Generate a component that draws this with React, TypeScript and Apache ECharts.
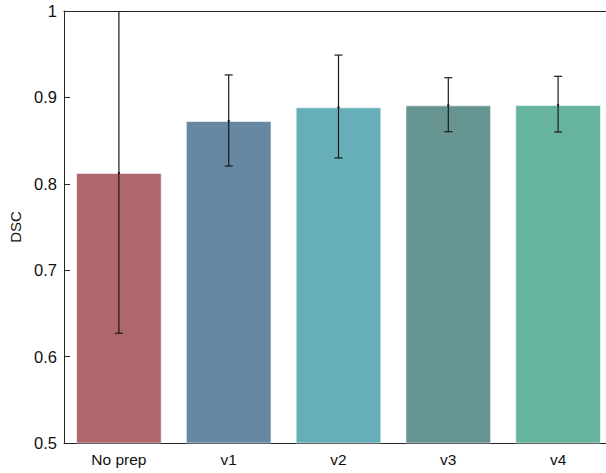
import React, { useEffect, useRef } from "react";
import * as echarts from "echarts";

const categories = ["No prep", "v1", "v2", "v3", "v4"];
const meanValues = [0.8125, 0.8727, 0.8885, 0.8908, 0.8912];
const errLow = [0.627, 0.8206, 0.8299, 0.8603, 0.86];
const errHigh = [1.0, 0.926, 0.949, 0.9228, 0.9244];
const barColors = ["#B0676C", "#6688A3", "#66AFB8", "#669591", "#66B3A0"];
const yTicks = [0.5, 0.6, 0.7, 0.8, 0.9, 1];

const FONT = "'Liberation Sans', Arial, Helvetica, sans-serif";
const AXIS_COLOR = "#262626";

export default function App() {
  const ref = useRef<HTMLDivElement>(null);
  useEffect(() => {
    if (!ref.current) return;
    const chart = echarts.init(ref.current, undefined, { renderer: "svg" });
    const errData = categories.map((_, i) => [i, errLow[i], errHigh[i], meanValues[i]]);
    chart.setOption({
      animation: false,
      grid: { left: 64, top: 11, right: 0, bottom: 30 },
      xAxis: [
        {
          type: "category",
          data: categories,
          position: "bottom",
          axisLine: { lineStyle: { color: AXIS_COLOR, width: 1 } },
          axisTick: { inside: true, alignWithLabel: true, length: 6, lineStyle: { color: AXIS_COLOR } },
          axisLabel: { color: "#111", fontSize: 15.5, fontFamily: FONT, margin: 8 },
        },
        {
          type: "category",
          data: categories,
          position: "top",
          axisLine: { lineStyle: { color: AXIS_COLOR, width: 1 } },
          axisTick: { inside: true, alignWithLabel: true, length: 6, lineStyle: { color: AXIS_COLOR } },
          axisLabel: { show: false },
        },
      ],
      yAxis: {
        type: "value",
        min: 0.5,
        max: 1,
        interval: 0.1,
        name: "DSC",
        nameLocation: "middle",
        nameGap: 40,
        nameTextStyle: { color: "#111", fontSize: 15, fontFamily: FONT },
        axisLine: { show: true, lineStyle: { color: AXIS_COLOR, width: 1 } },
        axisTick: { show: true, inside: true, length: 6, lineStyle: { color: AXIS_COLOR } },
        splitLine: { show: false },
        axisLabel: {
          color: "#111",
          fontSize: 16.5,
          fontFamily: FONT,
          margin: 7,
          formatter: (v: number) => {
            const t = yTicks.find((y) => Math.abs(y - v) < 1e-9);
            return t === undefined ? "" : String(t);
          },
        },
      },
      series: [
        {
          type: "bar",
          data: meanValues.map((v, i) => ({ value: v, itemStyle: { color: barColors[i] } })),
          barWidth: "78%",
          itemStyle: { borderColor: "rgba(255,255,255,0.55)", borderWidth: 1 },
          z: 2,
        },
        {
          type: "custom",
          data: errData,
          z: 5,
          clip: true,
          renderItem: (params: any, api: any) => {
            const x = api.value(0);
            const lo = api.coord([x, api.value(1)]);
            const hi = api.coord([x, api.value(2)]);
            const mid = api.coord([x, api.value(3)]);
            const cap = 4;
            const style = { stroke: "#1a1a1a", lineWidth: 1.2 };
            return {
              type: "group",
              children: [
                { type: "line", shape: { x1: lo[0], y1: lo[1], x2: hi[0], y2: hi[1] }, style },
                { type: "line", shape: { x1: lo[0] - cap, y1: lo[1], x2: lo[0] + cap, y2: lo[1] }, style },
                { type: "line", shape: { x1: hi[0] - cap, y1: hi[1], x2: hi[0] + cap, y2: hi[1] }, style },
                { type: "circle", shape: { cx: mid[0], cy: mid[1], r: 1.2 }, style: { fill: "#1a1a1a" } },
              ],
            };
          },
        },
      ],
    });
    return () => chart.dispose();
  }, []);
  return (
    <div
      style={{ position: "fixed", left: 0, top: 0, width: 606, height: 473, overflow: "hidden", background: "#fff" }}
    >
      <div ref={ref} style={{ width: 613, height: 473 }} />
    </div>
  );
}
